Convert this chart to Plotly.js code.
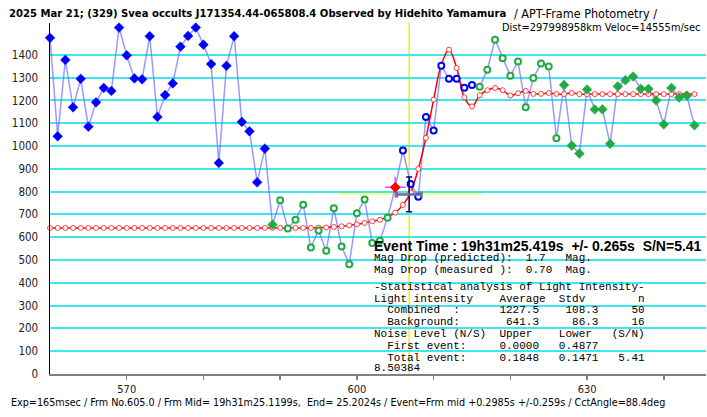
<!DOCTYPE html>
<html>
<head>
<meta charset="utf-8">
<script src="https://cdn.plot.ly/plotly-3.0.1.min.js"></script>
<style>
html,body{margin:0;padding:0;background:#fff;}
#chart{width:707px;height:417px;}
</style>
</head>
<body>
<div id="chart"></div>
<script>
// ---- Data ----
// Filled blue diamonds (pre-event)
var blueFilledFrames = [560,561,562,563,564,565,566,567,568,569,570,571,572,573,574,575,576,577,578,579,580,581,582,583,584,585,586,587,588];
var blueFilledValues = [1475,1043,1378,1170,1295,1085,1192,1255,1242,1520,1398,1297,1293,1482,1128,1224,1275,1436,1483,1520,1445,1360,926,1352,1482,1106,1065,841,989];
// Filled green (start of background)
var greenFilledAFrames = [589];
var greenFilledAValues = [655];
// Hollow green (background)
var greenOpenAFrames = [590,591,592,593,594,595,596,597,598,599,600,601,602,603,604];
var greenOpenAValues = [762,638,677,743,555,630,541,727,559,482,705,766,575,585,685];
// Highlighted point
var markFrames = [605];
var markValues = [819];
// Hollow blue (event)
var blueOpenFrames = [606,607,608,609,610,611,612,613,614,615];
var blueOpenValues = [981,834,778,1128,1068,1352,1295,1295,1256,1268];
// Hollow green (after event)
var greenOpenBFrames = [616,617,618,619,620,621,622,623,624,625,626];
var greenOpenBValues = [1260,1335,1467,1385,1309,1371,1170,1299,1362,1349,1034];
// Filled green (after event)
var greenFilledBFrames = [627,628,629,630,631,632,633,634,635,636,637,638,639,640,641,642,643,644];
var greenFilledBValues = [1268,1002,967,1248,1161,1161,1010,1262,1289,1305,1251,1251,1200,1095,1255,1213,1221,1091];

// Model light curve (red)
var modelFrames = [560,561,562,563,564,565,566,567,568,569,570,571,572,573,574,575,576,577,578,579,580,581,582,583,584,585,586,587,588,589,590,591,592,593,594,595,596,597,598,599,600,601,602,603,604,605,606,607,608,609,610,611,612,613,614,615,616,617,618,619,620,621,622,623,624,625,626,627,628,629,630,631,632,633,634,635,636,637,638,639,640,641,642,643,644];
var modelValues = [641,641,641,641,641,641,641,641,641,641,641,641,641,641,641,641,641,641,641,641,641,641,641,641,641,641,641,641,641,641,641,641,641,641,641,642,643,645,648,652,657,663,670,677,690,708,742,796,900,1036,1204,1357,1423,1343,1214,1174,1223,1245,1255,1245,1222,1232,1242,1229,1229,1233,1229,1228,1233,1228,1228,1228,1228,1228,1228,1228,1228,1228,1228,1228,1228,1228,1228,1228,1228];

// Event / error bars
var eventFrame = 606.81;
var eventLevel = 788;
var eventTimeErr = 1.6;     // frames
var eventLevelErr = 76;
var yellowLevel = 790;
var yellowSpan = [597.5, 616.3];

var yTicks = [0,100,200,300,400,500,600,700,800,900,1000,1100,1200,1300,1400];
var xTicks = [570,580,590,600,610,620,630,640];
var xTickText = ['570','','','600','','','630',''];

var titleMain = '2025 Mar 21; (329) Svea occults J171354.44-065808.4 Observed by Hidehito Yamamura';
var titleSub = '/ APT-Frame Photometry /';
var titleLine2 = 'Dist=297998958km Veloc=14555m/sec';
var footer = 'Exp=165msec / Frm No.605.0 / Frm Mid= 19h31m25.1199s,  End= 25.2024s / Event=Frm mid +0.2985s +/-0.259s / CctAngle=88.4deg';
var eventLine = 'Event Time : 19h31m25.419s  +/- 0.265s  S/N=5.41';
var statLines = [
  'Mag Drop (predicted):  1.7   Mag.',
  'Mag Drop (measured ):  0.70  Mag.',
  '-Statistical analysis of Light Intensity-',
  'Light intensity    Average  Stdv        n',
  '  Combined  :      1227.5    108.3     50',
  '  Background:       641.3     86.3     16',
  'Noise Level (N/S)  Upper    Lower   (S/N)',
  '  First event:     0.0000   0.4877',
  '  Total event:     0.1848   0.1471   5.41',
  '8.50384'
];
var statY = [258, 270, 287, 298.5, 310, 322, 334, 346, 357.5, 368];

// ---- Build all observed points for connecting line ----
var allPts = [];
[[blueFilledFrames,blueFilledValues],[greenFilledAFrames,greenFilledAValues],[greenOpenAFrames,greenOpenAValues],
 [markFrames,markValues],[blueOpenFrames,blueOpenValues],[greenOpenBFrames,greenOpenBValues],[greenFilledBFrames,greenFilledBValues]]
 .forEach(function(g){ for(var i=0;i<g[0].length;i++) allPts.push([g[0][i], g[1][i]]); });
allPts.sort(function(a,b){return a[0]-b[0];});
var lineX = allPts.map(function(p){return p[0];});
var lineY = allPts.map(function(p){return p[1];});

var GREEN = '#22aa44';
var BLUE = '#0000ff';
var traces = [
  {x:lineX, y:lineY, mode:'lines', line:{color:'rgba(110,110,255,0.7)', width:1.5}, hoverinfo:'skip', cliponaxis:false},
  {x:modelFrames, y:modelValues, mode:'lines+markers', line:{color:'#ff0000', width:1.5, shape:'spline', smoothing:1},
   marker:{symbol:'circle', size:5, color:'#ffffff', line:{color:'#ff4040', width:1}}, cliponaxis:false},
  {x:blueFilledFrames, y:blueFilledValues, mode:'markers', marker:{symbol:'diamond', size:7.5, color:BLUE, line:{color:BLUE,width:0.5}}, cliponaxis:false},
  {x:greenFilledAFrames, y:greenFilledAValues, mode:'markers', marker:{symbol:'diamond', size:7.5, color:GREEN, line:{color:GREEN,width:0.5}}, cliponaxis:false},
  {x:greenOpenAFrames, y:greenOpenAValues, mode:'markers', marker:{symbol:'circle', size:6, color:'#ffffff', line:{color:GREEN,width:2}}, cliponaxis:false},
  {x:blueOpenFrames, y:blueOpenValues, mode:'markers', marker:{symbol:'circle', size:6, color:'#ffffff', line:{color:BLUE,width:2}}, cliponaxis:false},
  {x:greenOpenBFrames, y:greenOpenBValues, mode:'markers', marker:{symbol:'circle', size:6, color:'#ffffff', line:{color:GREEN,width:2}}, cliponaxis:false},
  {x:greenFilledBFrames, y:greenFilledBValues, mode:'markers', marker:{symbol:'diamond', size:7.5, color:GREEN, line:{color:GREEN,width:0.5}}, cliponaxis:false},
  {x:markFrames, y:markValues, mode:'markers', marker:{symbol:'cross-thin-open', size:15, color:'#ff44ff', line:{color:'#ff44ff',width:1.5}}, cliponaxis:false},
  {x:markFrames, y:markValues, mode:'markers', marker:{symbol:'diamond', size:8, color:'#ff0000', line:{color:'#ff0000',width:0.5}}, cliponaxis:false},
  {x:[eventFrame], y:[eventLevel], mode:'markers', marker:{size:1, color:'rgba(0,0,0,0)'},
   error_x:{type:'constant', value:eventTimeErr, color:'#6c6ca0', thickness:2.5, width:3},
   error_y:{type:'constant', value:eventLevelErr, color:'#000080', thickness:1.5, width:3}}
];

function px2x(px){return (px-50)/656;}
function py2y(py){return (374-py)/351;}

var monoFont = {family:'"Liberation Mono", "DejaVu Sans Mono", monospace', size:11, color:'#000'};
var narrowFont = '"DejaVu Sans Condensed", "Liberation Sans Narrow", "Liberation Sans", sans-serif';

var annotations = [
  {xref:'paper', yref:'paper', x:px2x(7), y:py2y(13), xanchor:'left', yanchor:'middle', showarrow:false,
   text:'<b>'+titleMain+'</b>', font:{family:narrowFont, size:11.2, color:'#000'}},
  {xref:'paper', yref:'paper', x:px2x(512), y:py2y(13), xanchor:'left', yanchor:'middle', showarrow:false,
   text:titleSub, font:{family:narrowFont, size:12.5, color:'#000'}},
  {xref:'paper', yref:'paper', x:px2x(703), y:py2y(27), xanchor:'right', yanchor:'middle', showarrow:false,
   text:titleLine2, font:{family:narrowFont, size:11, color:'#000'}},
  {xref:'paper', yref:'paper', x:px2x(9), y:py2y(402), xanchor:'left', yanchor:'middle', showarrow:false,
   text:footer, font:{family:narrowFont, size:10.7, color:'#000'}},
  {xref:'paper', yref:'paper', x:px2x(372), y:py2y(246), xanchor:'left', yanchor:'middle', showarrow:false,
   text:'<b>'+eventLine+'</b>', font:{family:'"Liberation Sans", Arial, sans-serif', size:14, color:'#000'}}
];
for (var i=0;i<statLines.length;i++){
  annotations.push({xref:'paper', yref:'paper', x:px2x(372), y:py2y(statY[i]), xanchor:'left', yanchor:'middle', showarrow:false,
    text:statLines[i].replace(/ /g,'&nbsp;'), font:monoFont});
}

var shapes = [
  {type:'line', xref:'x', yref:'paper', x0:eventFrame, x1:eventFrame, y0:0, y1:1, line:{color:'#f0f000', width:1.5}, layer:'between'},
  {type:'line', xref:'x', yref:'y', x0:yellowSpan[0], x1:yellowSpan[1], y0:yellowLevel, y1:yellowLevel, line:{color:'#ffff80', width:2}, layer:'between'}
];

var layout = {
  width:707, height:417,
  margin:{l:50, r:1, t:23, b:43, pad:0},
  paper_bgcolor:'#ffffff', plot_bgcolor:'#ffffff',
  showlegend:false,
  xaxis:{range:[560,645.5], tickvals:xTicks, ticktext:xTickText, ticks:'outside', ticklen:4, tickwidth:1.5, tickcolor:'#808080',
         showline:true, linecolor:'#808080', linewidth:2, showgrid:false, zeroline:false,
         tickfont:{family:narrowFont, size:11, color:'#222'}},
  yaxis:{range:[0,1540], tickvals:yTicks, ticktext:yTicks.map(String), ticks:'outside', ticklen:8, tickcolor:'rgba(0,0,0,0)',
         showline:true, linecolor:'#000000', linewidth:1.5, showgrid:true, gridcolor:'#3ee6f2', gridwidth:2, zeroline:false,
         tickfont:{family:narrowFont, size:11.5, color:'#222'}},
  annotations:annotations,
  shapes:shapes
};

Plotly.newPlot('chart', traces, layout, {staticPlot:true, displayModeBar:false});
</script>
</body>
</html>
